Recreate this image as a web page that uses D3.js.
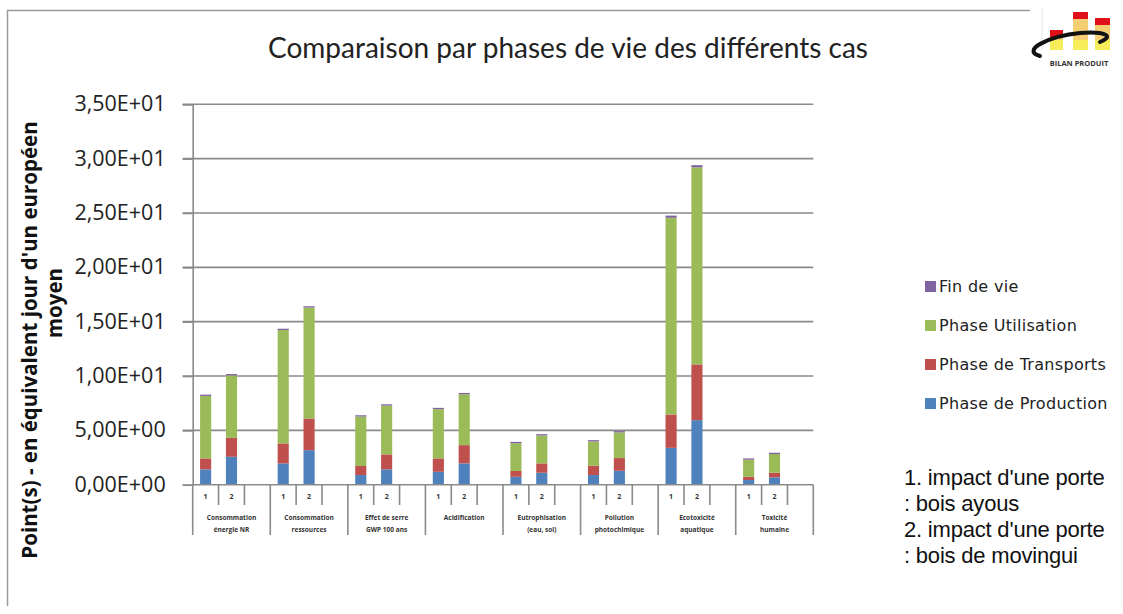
<!DOCTYPE html>
<html><head><meta charset="utf-8">
<script src="https://cdn.jsdelivr.net/npm/d3@7"></script>
<style>body{margin:0;background:#fff}svg{display:block}</style>
</head><body>
<svg id="c" width="1123" height="614"></svg>
<script>
const categories = [
  ["Consommation", "énergie NR"],
  ["Consommation", "ressources"],
  ["Effet de serre", "GWP 100 ans"],
  ["Acidification"],
  ["Eutrophisation", "(eau, sol)"],
  ["Pollution", "photochimique"],
  ["Ecotoxicité", "aquatique"],
  ["Toxicité", "humaine"]
];
const cases = ["1", "2", ""];
const production  = [1.41, 2.57, 1.96, 3.18, 0.89, 1.41, 1.19, 1.96, 0.73, 1.10, 0.89, 1.28, 3.39, 5.94, 0.43, 0.68];
const transports  = [1.01, 1.74, 1.84, 2.91, 0.83, 1.38, 1.23, 1.68, 0.53, 0.86, 0.85, 1.17, 3.07, 5.13, 0.30, 0.42];
const utilisation = [5.75, 5.75, 10.43, 10.21, 4.55, 4.49, 4.53, 4.68, 2.56, 2.57, 2.24, 2.36, 18.10, 18.13, 1.57, 1.72];
const finDeVie    = [0.12, 0.12, 0.12, 0.12, 0.12, 0.12, 0.12, 0.12, 0.12, 0.12, 0.12, 0.12, 0.20, 0.20, 0.12, 0.12];
const yTicks = [0, 5, 10, 15, 20, 25, 30, 35];
const seriesNames = ["Phase de Production", "Phase de Transports", "Phase Utilisation", "Fin de vie"];
const colors = ["#4F81BD", "#C0504D", "#9BBB59", "#8064A2"];
const notes = ["1. impact d'une porte", ": bois ayous", "2. impact d'une porte", ": bois de movingui"];
const title = "Comparaison par phases de vie des différents cas";
const yTitle = ["Point(s) - en équivalent jour d'un européen", "moyen"];

const svg = d3.select("#c");
const F = "'Open Sans', sans-serif";

// frame
svg.append("path").attr("d", "M7.5,606 V10.5 H1030").attr("fill", "none").attr("stroke", "#9a9a9a").attr("stroke-width", 1.5);

const L = 192.7, R = 813.3, B = 484.7, T = 104.3;
const y = d3.scaleLinear().domain([0, 35]).range([B, T]);
const slots = d3.range(categories.length * 3);
const x = d3.scaleBand().domain(slots).range([L, R]).padding(0);
const bw = x.bandwidth() * 0.43;

// grid
svg.append("g").selectAll("line").data(yTicks.slice(1)).join("line")
  .attr("x1", L - 10).attr("x2", R).attr("y1", d => y(d)).attr("y2", d => y(d))
  .attr("stroke", "#8a8a8a").attr("stroke-width", 1.6);

function fmt(v) {
  const [m, e] = v.toExponential(2).split("e");
  const n = parseInt(e, 10);
  return m.replace(".", ",") + "E" + (n < 0 ? "-" : "+") + String(Math.abs(n)).padStart(2, "0");
}
const yAxis = svg.append("g").attr("transform", `translate(${L},0)`)
  .call(d3.axisLeft(y).tickValues(yTicks).tickFormat(fmt).tickSize(10).tickPadding(17));
yAxis.select(".domain").attr("stroke", "#8a8a8a").attr("stroke-width", 1.6);
yAxis.selectAll(".tick line").attr("stroke", "#8a8a8a").attr("stroke-width", 1.6);
yAxis.selectAll("text").attr("font-family", F).attr("font-size", 21.5).attr("fill", "#222").attr("dy", "0.3em");

// stacked bars
const stackData = slots.filter(s => s % 3 !== 2).map((s, i) => ({
  slot: s, v: [production[i], transports[i], utilisation[i], finDeVie[i]]
}));
const stack = d3.stack().keys([0, 1, 2, 3]).value((d, k) => d.v[k]);
const layers = stack(stackData);
svg.append("g").selectAll("g").data(layers).join("g").attr("fill", (d, i) => colors[i])
  .selectAll("rect").data(d => d).join("rect")
  .attr("x", d => x(d.data.slot) + (x.bandwidth() - bw) / 2)
  .attr("width", bw)
  .attr("y", d => y(d[1]))
  .attr("height", d => y(d[0]) - y(d[1]));

// x axis (multi-level)
const xg = svg.append("g");
xg.append("line").attr("x1", L).attr("x2", R).attr("y1", B).attr("y2", B).attr("stroke", "#8a8a8a").attr("stroke-width", 1.6);
const bounds = d3.range(slots.length + 1);
xg.selectAll("line.t").data(bounds).join("line").attr("class", "t")
  .attr("x1", i => i < slots.length ? x(i) : R).attr("x2", i => i < slots.length ? x(i) : R)
  .attr("y1", B).attr("y2", i => i % 3 === 0 ? 535 : 505)
  .attr("stroke", "#8a8a8a").attr("stroke-width", 1.6);
xg.selectAll("text.c").data(slots).join("text").attr("class", "c")
  .attr("x", s => x(s) + x.bandwidth() / 2).attr("y", 499)
  .attr("text-anchor", "middle").attr("font-family", F).attr("font-size", 7).attr("font-weight", "bold").attr("fill", "#333")
  .text(s => cases[s % 3]);
categories.forEach((c, g) => {
  const cx = x(g * 3) + x.bandwidth() * 1.5;
  const t = xg.append("text").attr("x", cx).attr("text-anchor", "middle")
    .attr("font-family", F).attr("font-size", 6.5).attr("font-weight", "bold").attr("fill", "#333");
  c.forEach((line, k) => t.append("tspan").attr("x", cx).attr("y", 520 + k * 12).text(line));
});

// title
svg.append("text").attr("x", 568).attr("y", 58).attr("text-anchor", "middle")
  .attr("font-family", "Lato, sans-serif").attr("font-size", 28).attr("fill", "#222").text(title);

// y title
yTitle.forEach((t, k) => {
  svg.append("text").attr("transform", `translate(${37 + k * 25},${k === 0 ? 340 : 303}) rotate(-90)`)
    .attr("text-anchor", "middle").attr("font-family", F).attr("font-size", 20.5).attr("font-weight", "bold")
    .attr("fill", "#111").text(t);
});

// legend
const legOrder = [3, 2, 1, 0];
const legY = [286, 325, 364, 403];
legOrder.forEach((si, k) => {
  svg.append("rect").attr("x", 925).attr("y", legY[k] - 5).attr("width", 11).attr("height", 11).attr("fill", colors[si]);
  svg.append("text").attr("x", 939).attr("y", legY[k] + 5.5).attr("font-family", "'DejaVu Sans', sans-serif").attr("font-size", 16)
    .attr("letter-spacing", 0.3).attr("fill", "#222").text(seriesNames[si]);
});

// notes
notes.forEach((n, k) => {
  svg.append("text").attr("x", 904).attr("y", 485 + k * 26).attr("font-family", "'Liberation Sans', Arial, sans-serif")
    .attr("font-size", 22).attr("letter-spacing", -0.2).attr("fill", "#111").text(n);
});

// logo
const lg = svg.append("g");
lg.append("rect").attr("x", 1030).attr("y", 2).attr("width", 93).attr("height", 68).attr("fill", "#fff");
lg.append("line").attr("x1", 1042).attr("x2", 1042).attr("y1", 8).attr("y2", 50).attr("stroke", "#e6e6e6");
const bars = [[1050, 30, 13], [1073, 12, 15], [1095, 18, 15]];
bars.forEach(([bx, by, w]) => {
  lg.append("rect").attr("x", bx).attr("y", by).attr("width", w).attr("height", 50 - by).attr("fill", "#F3CE72");
  lg.append("rect").attr("x", bx).attr("y", 40).attr("width", w).attr("height", 10).attr("fill", "#F7EC5A");
  lg.append("rect").attr("x", bx).attr("y", by).attr("width", w).attr("height", 7).attr("fill", "#E0101A");
});
lg.append("path").attr("d", "M1040,56 C1020,50 1050,36 1080,33 C1105,31 1115,36 1100,42")
  .attr("fill", "none").attr("stroke", "#111").attr("stroke-width", 4).attr("stroke-linecap", "round");
lg.append("text").attr("x", 1079).attr("y", 66).attr("text-anchor", "middle").attr("font-family", F)
  .attr("font-size", 7.5).attr("font-weight", "bold").attr("fill", "#333").text("BILAN PRODUIT");
</script>
</body></html>
